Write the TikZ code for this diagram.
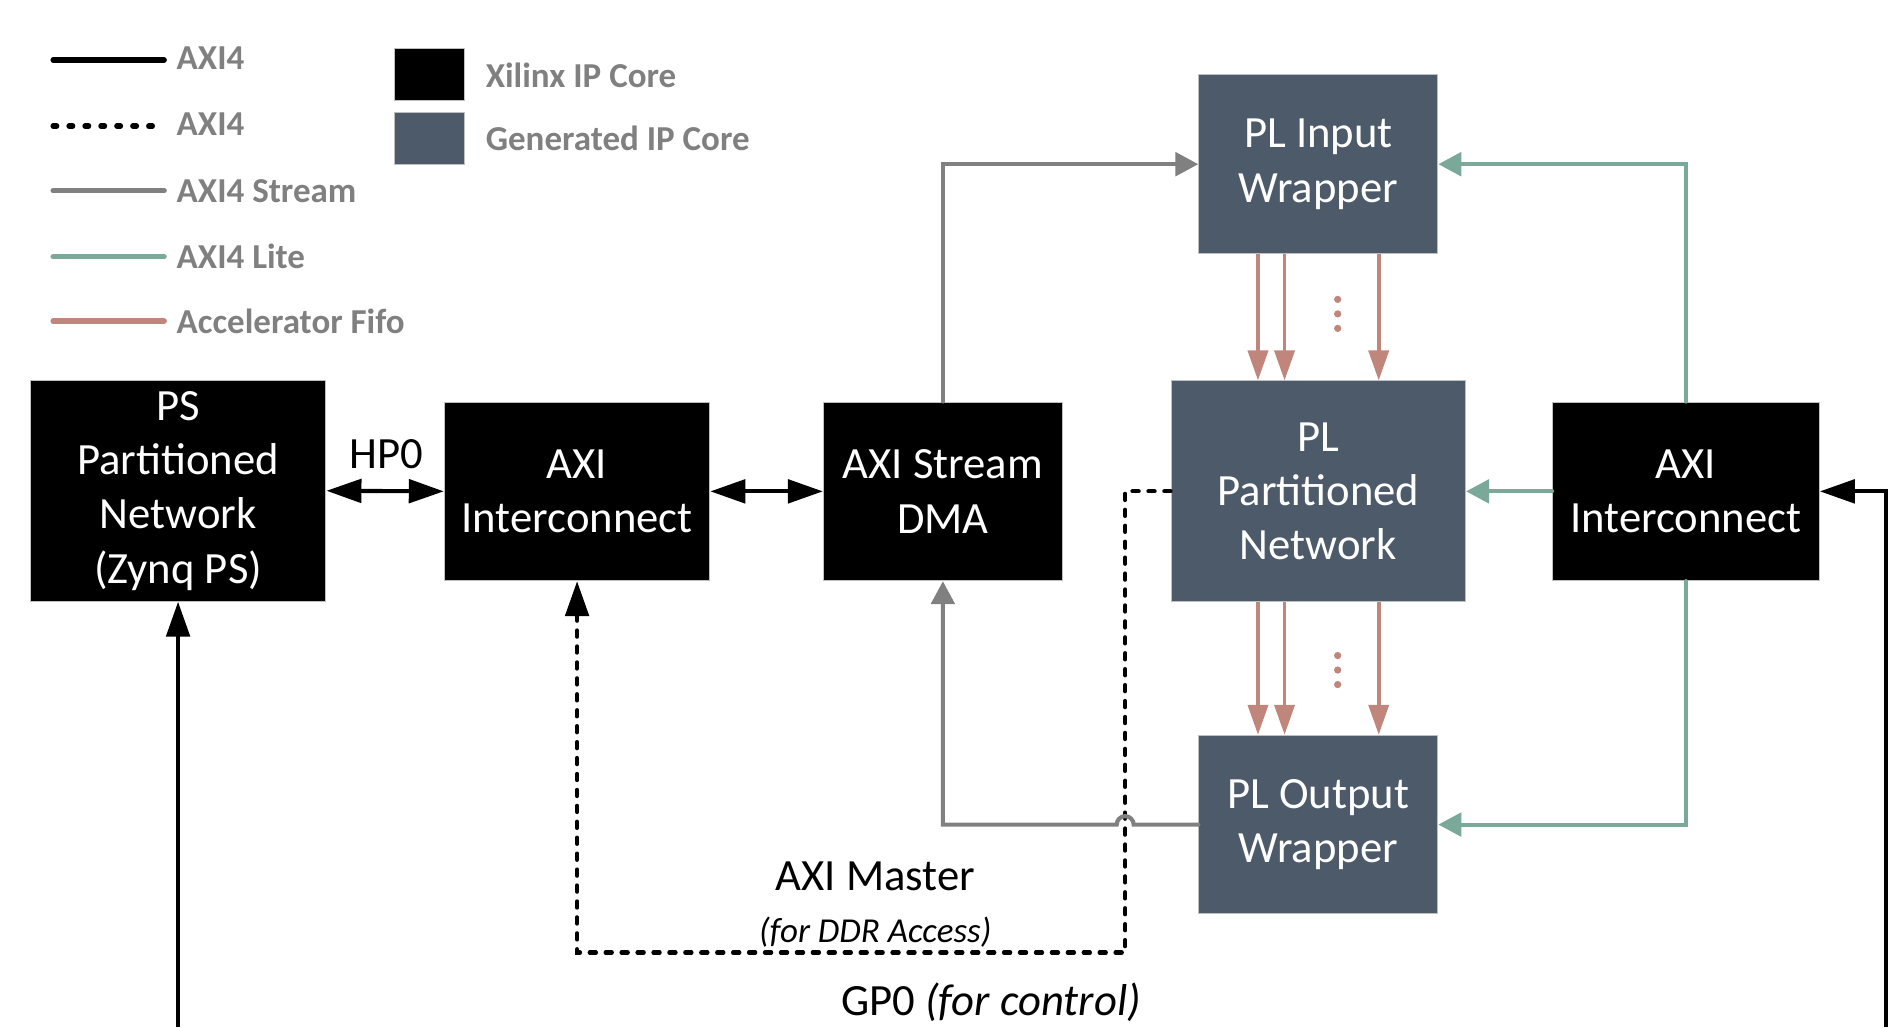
\documentclass[tikz,border=0pt]{standalone}
\usepackage{fontspec}
\setmainfont{Carlito}
\usetikzlibrary{arrows.meta,calc,positioning}

\definecolor{genblue}{RGB}{77,90,105}
\definecolor{strmgray}{RGB}{128,128,128}
\definecolor{litegreen}{RGB}{122,169,154}
\definecolor{fifored}{RGB}{192,133,123}
\definecolor{lggray}{RGB}{128,128,128}

\tikzset{
  boxfont/.style={font=\fontsize{18.5}{22.5}\selectfont},
  ipbox/.style={boxfont,text=white,align=center,draw=black!25,
    line width=0.4pt,inner sep=2pt},
  xbox/.style={ipbox,fill=black},
  gbox/.style={ipbox,fill=genblue},
  smallbox/.style={minimum width=99pt,minimum height=74pt},
  icbox/.style={minimum width=110pt,minimum height=74pt},
  bigbox/.style={minimum width=122pt,minimum height=91.5pt},
  axiln/.style={line width=1.7pt,>={Triangle[length=14.5pt,width=9.7pt]}},
  axidot/.style={axiln,line cap=round,dash pattern=on 2.6pt off 4pt},
  strm/.style={strmgray,line width=1.7pt,line cap=round,
    >={Triangle[length=9.5pt,width=9.7pt]}},
  lite/.style={litegreen,line width=1.7pt,line cap=round,
    >={Triangle[length=9.5pt,width=9.7pt]}},
  fifo/.style={fifored,line width=1.5pt,
    >={Triangle[length=12.4pt,width=8.3pt]}},
  lbl/.style={boxfont,inner sep=1pt},
  lgtxt/.style={anchor=west,text=lggray,inner sep=0pt,
    font=\fontsize{14.5}{17}\selectfont\bfseries},
  lgline/.style={line width=2.2pt,line cap=round},
}

\begin{document}
\begin{tikzpicture}[x=0.5pt,y=-0.5pt]
  \useasboundingbox (0,0) rectangle (1568,851);

  % legend
  \draw[lgline] (44,49.7) -- (136,49.7);
  \node[lgtxt] (lga) at (146,48) {AXI4};
  \draw[lgline,dash pattern=on 1.5pt off 5.1pt] (44,104.4) -- (136,104.4);
  \node[lgtxt] (lgb) at (146,103) {AXI4};
  \draw[lgline,strmgray] (44,158) -- (136,158);
  \node[lgtxt] (lgc) at (146,158) {AXI4 Stream};
  \draw[lgline,litegreen] (44,212.6) -- (136,212.6);
  \node[lgtxt] (lgd) at (146,212) {AXI4 Lite};
  \draw[lgline,fifored] (44,266) -- (136,266);
  \node[lgtxt] (lge) at (146,266) {Accelerator Fifo};
  \node[xbox,minimum width=29pt,minimum height=21.5pt] (lgx) at (355.5,61.5) {};
  \node[lgtxt] (lgxt) at (402,62) {Xilinx IP Core};
  \node[gbox,minimum width=29pt,minimum height=21.5pt] (lgg) at (355.5,114.5) {};
  \node[lgtxt] (lggt) at (402,115) {Generated IP Core};

  % cores
  \node[xbox,bigbox,minimum width=122.5pt] (ps) at (147.5,406.5)
    {PS\\Partitioned\\Network\\(Zynq PS)};
  \node[xbox,icbox] (icl) at (478,407) {AXI\\Interconnect};
  \node[xbox,smallbox] (dma) at (781,407) {AXI Stream\\DMA};
  \node[gbox,smallbox] (plin) at (1092,136) {PL Input\\Wrapper};
  \node[gbox,bigbox] (pln) at (1092,407) {PL\\Partitioned\\Network};
  \node[xbox,icbox,minimum width=110.5pt] (icr) at (1396.5,407)
    {AXI\\Interconnect};
  \node[gbox,smallbox] (plout) at (1092,683) {PL Output\\Wrapper};

  % labels
  \node[lbl] (hp0) at (320,376) {HP0};
  \node[lbl] (axm) at (725,726) {AXI Master};
  \node[lbl,font=\fontsize{14.5}{17}\selectfont\itshape] (ddr) at (725,772)
    {(for DDR Access)};
  \node[lbl] (gp0) at (821,830) {GP0 \textit{(for control)}};

  \coordinate (mcorner) at (932,789);
  \coordinate (hop) at (mcorner |- plout.west);
  \coordinate (psin) at (147.5,851);
  \coordinate (gpin) at (1562,851);

  % AXI4
  \draw[axiln,<->] (ps.east) -- (icl.west);
  \draw[axiln,<->] (icl.east) -- (dma.west);
  \draw[axiln,->] (psin) -- (ps.south);
  \draw[axiln,->] (gpin) |- (icr.east);
  \draw[axidot,->] (pln.west) -| (mcorner) -| (icl.south);

  % AXI4 stream
  \draw[strm,->] (dma.north) |- (plin.west);
  \draw[strm,->] (plout.west) -- ($(hop)+(3.5pt,0)$)
    arc[start angle=0,end angle=180,radius=3.5pt]
    -- (dma.south |- hop) -- (dma.south);

  % AXI4 lite
  \draw[lite,->] (icr.north) |- (plin.east);
  \draw[lite,->] (icr.west) -- (pln.east);
  \draw[lite,->] (icr.south) |- (plout.east);

  % accelerator fifos
  \foreach \x in {1042,1064,1142} {
    \draw[fifo,->] (\x,0 |- plin.south) -- (\x,0 |- pln.north);
    \draw[fifo,->] (\x,0 |- pln.south) -- (\x,0 |- plout.north);
  }
  \foreach \y in {248,260,272,543,555,567}
    \fill[fifored] (1108,\y) circle[radius=1.5pt];
\end{tikzpicture}
\end{document}
